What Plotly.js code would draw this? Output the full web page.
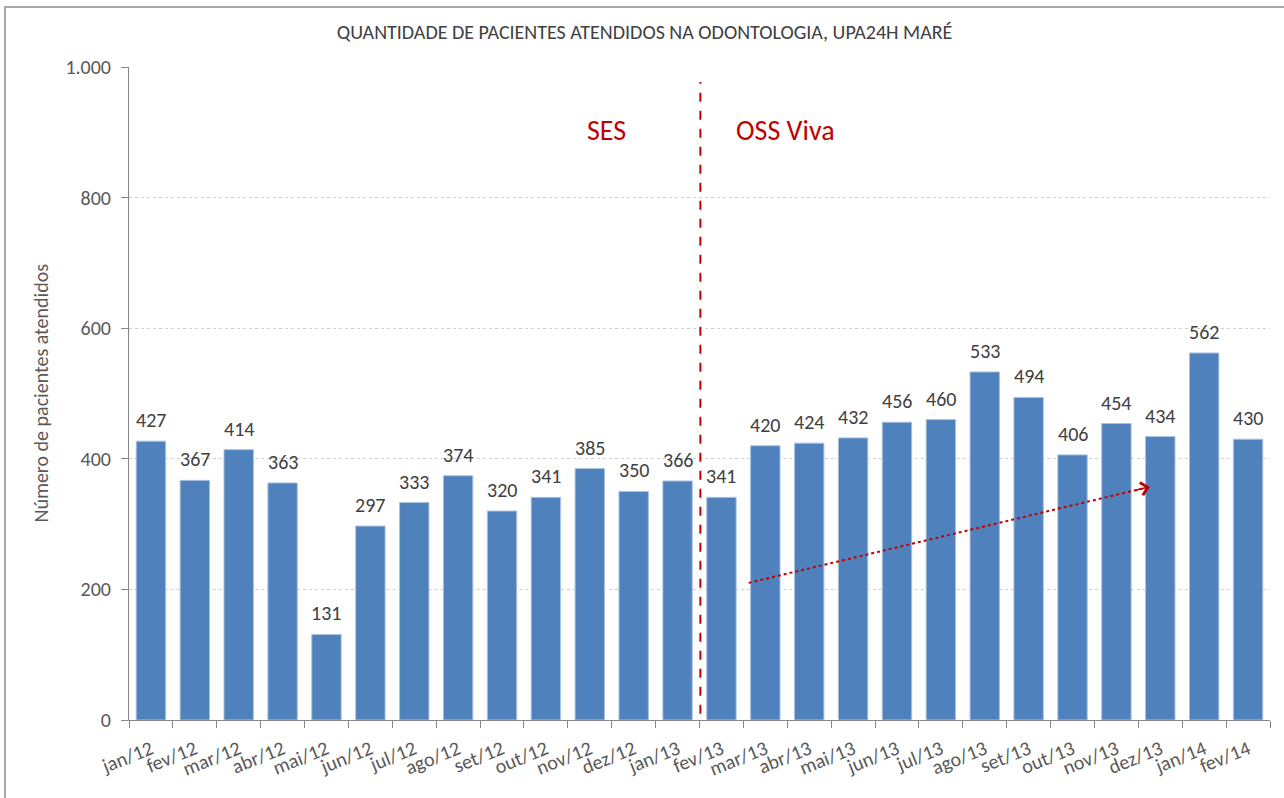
<!DOCTYPE html>
<html>
<head>
<meta charset="utf-8">
<script src="https://cdn.plot.ly/plotly-3.0.1.min.js"></script>
<style>
html,body{margin:0;padding:0;background:#fff;}
#wrap{position:relative;width:1284px;height:798px;overflow:hidden;}
#chart{width:1284px;height:798px;}
#frame{position:absolute;left:4px;top:6px;width:1400px;height:900px;border-left:2px solid #A6A6A6;border-top:2px solid #A6A6A6;pointer-events:none;}
</style>
</head>
<body>
<div id="wrap"><div id="chart"></div><div id="frame"></div></div>
<script>
const categories = ["jan/12","fev/12","mar/12","abr/12","mai/12","jun/12","jul/12","ago/12","set/12","out/12","nov/12","dez/12","jan/13","fev/13","mar/13","abr/13","mai/13","jun/13","jul/13","ago/13","set/13","out/13","nov/13","dez/13","jan/14","fev/14"];
const pacientes = [427,367,414,363,131,297,333,374,320,341,385,350,366,341,420,424,432,456,460,533,494,406,454,434,562,430];
const yTicks = [0,200,400,600,800,1000];
const periodLabels = ["SES","OSS Viva"];
const chartTitle = "QUANTIDADE DE PACIENTES ATENDIDOS NA ODONTOLOGIA, UPA24H MARÉ";
const yTitle = "Número de pacientes atendidos";

const FONT = "Carlito, Lato, 'Liberation Sans', sans-serif";

const trace = {
  type: "bar",
  x: categories,
  y: pacientes,
  marker: {color: "#4F81BD", line: {color: "#A9C2E0", width: 1}},
  hoverinfo: "x+y"
};

const valueLabels = categories.map((c, i) => ({
  text: String(pacientes[i]), xref: "x", yref: "y", x: c, y: pacientes[i],
  yanchor: "bottom", yshift: 7, showarrow: false,
  font: {family: FONT, size: 20, color: "#404040"}
}));

const layout = {
  width: 1284, height: 798,
  margin: {l: 129, r: 14, t: 67, b: 78, pad: 0},
  paper_bgcolor: "#fff", plot_bgcolor: "#fff",
  font: {family: FONT, color: "#595959", size: 20},
  separators: ",.",
  showlegend: false,
  bargap: 0.33,
  title: {text: chartTitle, x: 0.502, xref: "container", xanchor: "center", y: 0.96, yref: "container", yanchor: "middle",
          font: {family: FONT, size: 20, color: "#404040"}},
  xaxis: {
    type: "category", range: [-0.5, categories.length - 0.5],
    tickson: "boundaries", ticks: "outside", ticklen: 7, tickcolor: "#868686",
    showline: true, linecolor: "#868686", linewidth: 1,
    showgrid: false, tickangle: -22, ticklabelstandoff: 9,
    tickfont: {family: FONT, size: 20, color: "#595959"},
    fixedrange: true
  },
  yaxis: {
    range: [0, 1000], tickvals: yTicks, tickformat: ",d",
    ticks: "outside", ticklen: 7, tickcolor: "#868686",
    showline: true, linecolor: "#868686", linewidth: 1,
    showgrid: true, gridcolor: "#D0D0D0", griddash: "dot", gridwidth: 1,
    zeroline: false, ticklabelstandoff: 6,
    tickfont: {family: FONT, size: 20, color: "#595959"},
    fixedrange: true
  },
  shapes: [
    {type: "line", xref: "x", yref: "y", x0: 12.52, x1: 12.52, y0: -18, y1: 977,
     line: {color: "#C00000", width: 2, dash: "dash"}},
    {type: "line", xref: "x", yref: "y", x0: 13.62, y0: 210, x1: 22.72, y1: 356.5,
     line: {color: "#C00000", width: 2, dash: "dot"}}
  ],
  annotations: valueLabels.concat([
    {text: yTitle, xref: "paper", yref: "paper", x: -0.078, y: 0.5, textangle: -90, showarrow: false,
     xanchor: "center", yanchor: "middle", font: {family: FONT, size: 20, color: "#595959"}},
    {text: periodLabels[0], xref: "x", yref: "y", x: 10.39, y: 903, showarrow: false,
     font: {family: FONT, size: 28, color: "#C00000"}},
    {text: periodLabels[1], xref: "x", yref: "y", x: 14.47, y: 903, showarrow: false,
     font: {family: FONT, size: 28, color: "#C00000"}},
    {text: "", xref: "x", yref: "y", x: 22.76, y: 357, axref: "x", ayref: "y", ax: 22.4, ay: 351.3,
     showarrow: true, arrowhead: 4, arrowsize: 1.6, arrowwidth: 1.6, arrowcolor: "#C00000"}
  ])
};

Plotly.newPlot("chart", [trace], layout, {displayModeBar: false, staticPlot: true});
</script>
</body>
</html>
